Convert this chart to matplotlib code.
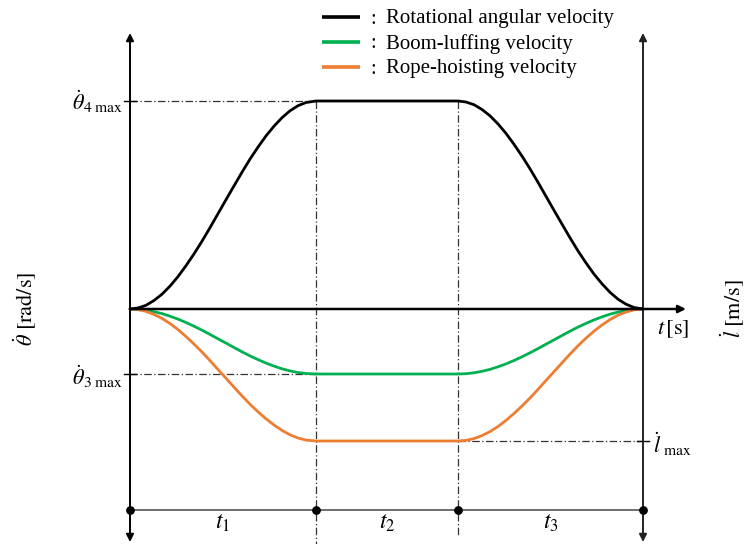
import numpy as np
import matplotlib
matplotlib.use("Agg")
import matplotlib.pyplot as plt

plt.rcParams['mathtext.fontset'] = 'stix'
plt.rcParams['font.family'] = ['Liberation Serif', 'DejaVu Serif']

# ---- data (time in arbitrary units, velocity in arbitrary units) ----
t_up = [0, 8, 16, 24, 32, 40, 48, 56, 64, 72, 80, 88, 96, 104, 112, 120,
        128, 136, 144, 152, 160, 168, 176, 186]
t_down = [328, 336, 344, 352, 360, 368, 376, 384, 392, 400, 408, 416, 424,
          432, 440, 448, 456, 464, 472, 480, 488, 496, 504, 513]

rot_up = [0, 1.0, 3.7, 8.5, 14.8, 22.9, 32.4, 43.3, 55.1, 67.8, 81.3, 95.3,
          109.3, 123.1, 136.8, 149.9, 161.9, 173.1, 182.8, 191.3, 198.2,
          203.3, 206.5, 208]
rot_down = [208, 207.0, 204.3, 199.5, 193.2, 185.1, 175.6, 164.7, 152.9,
            140.2, 126.7, 112.7, 98.7, 84.9, 71.2, 58.1, 46.1, 34.9, 25.2,
            16.7, 9.8, 4.8, 1.5, 0]

boom_up = [0, -0.3, -1.2, -2.7, -4.6, -7.2, -10.1, -13.5, -17.2, -21.2,
           -25.4, -29.8, -34.1, -38.5, -42.8, -46.9, -50.6, -54.1, -57.1,
           -59.8, -61.9, -63.5, -64.5, -65]
boom_down = [-65, -64.7, -63.8, -62.3, -60.4, -57.8, -54.9, -51.5, -47.8,
             -43.8, -39.6, -35.2, -30.9, -26.5, -22.2, -18.1, -14.4, -10.9,
             -7.9, -5.2, -3.1, -1.5, -0.5, 0]

rope_up = [0, -0.6, -2.4, -5.4, -9.4, -14.5, -20.6, -27.5, -35.0, -43.0,
           -51.6, -60.5, -69.3, -78.1, -86.9, -95.2, -102.8, -109.8, -116.0,
           -121.4, -125.8, -129.0, -131.1, -132]
rope_down = [-132, -131.4, -129.6, -126.6, -122.6, -117.5, -111.4, -104.5,
             -97.0, -89.0, -80.4, -71.5, -62.7, -53.9, -45.1, -36.8, -29.2,
             -22.2, -16.0, -10.6, -6.2, -3.0, -0.9, 0]

series_names = ["Rotational angular velocity", "Boom-luffing velocity", "Rope-hoisting velocity"]
series_colors = ["#000000", "#00b050", "#ed7d31"]

t_all = t_up + t_down
T0, T1, T2, T3 = t_up[0], t_up[-1], t_down[0], t_down[-1]
rot_max, boom_max, rope_max = max(rot_up), min(boom_up), min(rope_up)

# ---- figure ----
fig = plt.figure(figsize=(7.48, 5.44), dpi=100)
ax = fig.add_axes([0, 0, 1, 1])
ax.set_xlim(-130, 618)
ax.set_ylim(309 - 544, 309)
ax.axis('off')

# curves
for up, down, c in [(boom_up, boom_down, series_colors[1]),
                    (rope_up, rope_down, series_colors[2]),
                    (rot_up, rot_down, series_colors[0])]:
    ax.plot(t_all, up + down, color=c, lw=2.0, solid_capstyle='round',
            solid_joinstyle='round', zorder=3)

# dash-dot guides
dd = dict(color='#333333', lw=0.9, ls=(0, (6, 2, 1, 2)), zorder=2)
ax.plot([T0, T1], [rot_max, rot_max], **dd)
ax.plot([T0, T1], [boom_max, boom_max], **dd)
ax.plot([T2, T3], [rope_max, rope_max], **dd)
ax.plot([T1, T1], [rot_max, 309 - 544], **dd)
ax.plot([T2, T2], [rot_max, 309 - 535], **dd)

# small ticks
ax.plot([T0 - 6, T0 + 6], [rot_max, rot_max], color='k', lw=1.0, zorder=4)
ax.plot([T0 - 6, T0 + 6], [boom_max, boom_max], color='k', lw=1.0, zorder=4)
ax.plot([T3 - 6, T3 + 6], [rope_max, rope_max], color='k', lw=1.0, zorder=4)

# axes arrows
ap = dict(arrowstyle='-|>', mutation_scale=11, lw=1.4, color='k', shrinkA=0, shrinkB=0)
ax.annotate('', xy=(T0, 309 - 33), xytext=(T0, 0), arrowprops=ap, zorder=5)
ax.annotate('', xy=(T3, 309 - 33), xytext=(T3, 0), arrowprops=dict(ap, color='#222222'), zorder=5)
ax.annotate('', xy=(T0, 309 - 542), xytext=(T0, 0), arrowprops=ap, zorder=5)
ax.annotate('', xy=(T3, 309 - 542), xytext=(T3, 0), arrowprops=dict(ap, color='#222222'), zorder=5)
ax.annotate('', xy=(T3 + 43, 0), xytext=(T0, 0), arrowprops=dict(ap, lw=1.8), zorder=5)

# bottom time bar
yb = 309 - 510
ax.plot([T0, T3], [yb, yb], color='#555555', lw=1.2, zorder=4)
ax.scatter([T0, T1, T2, T3], [yb] * 4, s=28, color='k', zorder=6)

fs = 16
ax.text((T0 + T1) / 2, yb - 3, r'$t_1$', ha='center', va='top', fontsize=17)
ax.text((T1 + T2) / 2, yb - 3, r'$t_2$', ha='center', va='top', fontsize=17)
ax.text((T2 + T3) / 2, yb - 3, r'$t_3$', ha='center', va='top', fontsize=17)

# value labels
ax.text(T0 - 7, rot_max - 1, r'$\dot{\theta}_{4\ \mathrm{max}}$', ha='right', va='center', fontsize=fs)
ax.text(T0 - 7, boom_max - 3, r'$\dot{\theta}_{3\ \mathrm{max}}$', ha='right', va='center', fontsize=fs)
ax.text(T3 + 10, rope_max - 3, r'$\dot{l}_{\ \mathrm{max}}$', ha='left', va='center', fontsize=fs)
ax.text(T3 + 14, -20, r'$t\,[\mathrm{s}]$', ha='left', va='center', fontsize=fs)
ax.text(-105, 0, r'$\dot{\theta}\ [\mathrm{rad/s}]$', ha='center', va='center', rotation=90, fontsize=fs)
ax.text(603, 0, r'$\dot{l}\ [\mathrm{m/s}]$', ha='center', va='center', rotation=90, fontsize=fs)

# legend
for i, (name, c) in enumerate(zip(series_names, series_colors)):
    yy = 309 - (17 + 25 * i)
    ax.plot([192, 230], [yy, yy], color=c, lw=2.6, solid_capstyle='butt')
    ax.text(240, yy - 2, ':', ha='left', va='center', fontsize=14.5)
    ax.text(256, yy - 2, name, ha='left', va='center', fontsize=15)

fig.savefig('out.png', dpi=100)
